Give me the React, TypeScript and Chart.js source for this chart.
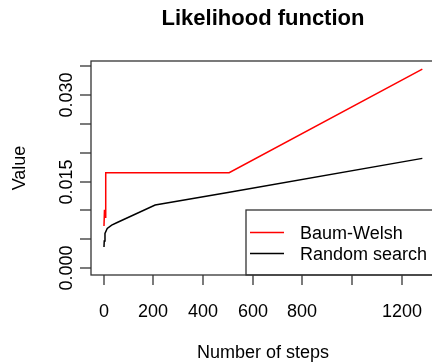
import React, { useEffect, useRef } from "react";
import { Chart, registerables } from "chart.js";

Chart.register(...registerables);

const titleText = "Likelihood function";
const xTitle = "Number of steps";
const yTitle = "Value";
const seriesNames = ["Baum-Welsh", "Random search"];
const seriesColors = ["#ff0000", "#000000"];

const baumX = [1, 3, 6, 8, 505, 1283];
const baumY = [0.0073, 0.0101, 0.0088, 0.01653, 0.01653, 0.0345];

const randX = [1, 2, 5, 14, 32, 52, 207, 500, 1283];
const randY = [0.00364, 0.00468, 0.00602, 0.00688, 0.00746, 0.00786, 0.01092, 0.0131, 0.01902];

const xTicks = [0, 200, 400, 600, 800, 1000, 1200];
const xTickLabels = ["0", "200", "400", "600", "800", "", "1200"];
const yTicks = [0, 0.005, 0.01, 0.015, 0.02, 0.025, 0.03, 0.035];
const yTickLabels = ["0.000", "", "", "0.015", "", "", "0.030", ""];

const FONT = '"Liberation Sans", Arial, sans-serif';

const rPlot = {
  id: "rPlot",
  afterDraw(chart: any) {
    const ctx = chart.ctx;
    const { left, right, top, bottom } = chart.chartArea;
    const xs = chart.scales.x;
    const ys = chart.scales.y;
    ctx.save();
    ctx.strokeStyle = "#333";
    ctx.fillStyle = "#000";
    ctx.lineWidth = 1.3;

    // legend (bottom right)
    const lx = 246, ly = 210;
    ctx.fillStyle = "#fff";
    ctx.fillRect(lx, ly, right - lx, bottom - ly);
    ctx.strokeRect(lx, ly, right - lx, bottom - ly);
    seriesNames.forEach((name, i) => {
      const yy = 232.5 + i * 21;
      ctx.strokeStyle = seriesColors[i];
      ctx.lineWidth = 1.5;
      ctx.beginPath();
      ctx.moveTo(250, yy);
      ctx.lineTo(284, yy);
      ctx.stroke();
      ctx.fillStyle = "#000";
      ctx.font = `18px ${FONT}`;
      ctx.textAlign = "left";
      ctx.textBaseline = "alphabetic";
      ctx.fillText(name, 300, yy + 6.5);
    });

    // box
    ctx.strokeStyle = "#333";
    ctx.lineWidth = 1.3;
    ctx.strokeRect(left, top, right - left, bottom - top);

    // x axis ticks
    ctx.font = `18px ${FONT}`;
    ctx.fillStyle = "#000";
    xTicks.forEach((v, i) => {
      const px = Math.round(xs.getPixelForValue(v));
      ctx.beginPath();
      ctx.moveTo(px, bottom);
      ctx.lineTo(px, bottom + 10);
      ctx.stroke();
      if (xTickLabels[i]) {
        ctx.textAlign = "center";
        ctx.textBaseline = "alphabetic";
        ctx.fillText(xTickLabels[i], px, 317);
      }
    });

    // y axis ticks
    yTicks.forEach((v, i) => {
      const py = Math.round(ys.getPixelForValue(v));
      ctx.beginPath();
      ctx.moveTo(left - 11, py);
      ctx.lineTo(left, py);
      ctx.stroke();
      if (yTickLabels[i]) {
        ctx.save();
        ctx.translate(72, py);
        ctx.rotate(-Math.PI / 2);
        ctx.textAlign = "center";
        ctx.textBaseline = "alphabetic";
        ctx.fillText(yTickLabels[i], 0, 0);
        ctx.restore();
      }
    });

    // titles
    const cx = (left + right) / 2;
    ctx.textAlign = "center";
    ctx.textBaseline = "alphabetic";
    ctx.font = `bold 22px ${FONT}`;
    ctx.fillText(titleText, cx, 25);
    ctx.font = `18px ${FONT}`;
    ctx.fillText(xTitle, cx, 358);
    ctx.save();
    ctx.translate(25, (top + bottom) / 2);
    ctx.rotate(-Math.PI / 2);
    ctx.fillText(yTitle, 0, 0);
    ctx.restore();

    ctx.restore();
  },
};

export default function App() {
  const ref = useRef<HTMLCanvasElement>(null);
  useEffect(() => {
    if (!ref.current) return;
    const chart = new Chart(ref.current, {
      type: "line",
      data: {
        datasets: [
          {
            label: seriesNames[0],
            data: baumX.map((x, i) => ({ x, y: baumY[i] })),
            borderColor: seriesColors[0],
            borderWidth: 1.5,
            pointRadius: 0,
            tension: 0,
            fill: false,
          },
          {
            label: seriesNames[1],
            data: randX.map((x, i) => ({ x, y: randY[i] })),
            borderColor: seriesColors[1],
            borderWidth: 1.5,
            pointRadius: 0,
            tension: 0,
            fill: false,
          },
        ],
      },
      options: {
        responsive: false,
        animation: false,
        devicePixelRatio: 1,
        layout: { padding: { left: 91, top: 61, right: 5, bottom: 88 } },
        scales: {
          x: { type: "linear", display: false, min: -51.3, max: 1334 },
          y: { type: "linear", display: false, min: -0.0012, max: 0.0359 },
        },
        plugins: {
          legend: { display: false },
          title: { display: false },
          tooltip: { enabled: false },
        },
      },
      plugins: [rPlot],
    });
    return () => chart.destroy();
  }, []);
  return (
    <div
      style={{
        position: "fixed",
        left: 0,
        top: 0,
        width: 432,
        height: 363,
        overflow: "hidden",
        background: "#fff",
      }}
    >
      <canvas ref={ref} width={440} height={363} style={{ display: "block" }} />
    </div>
  );
}
